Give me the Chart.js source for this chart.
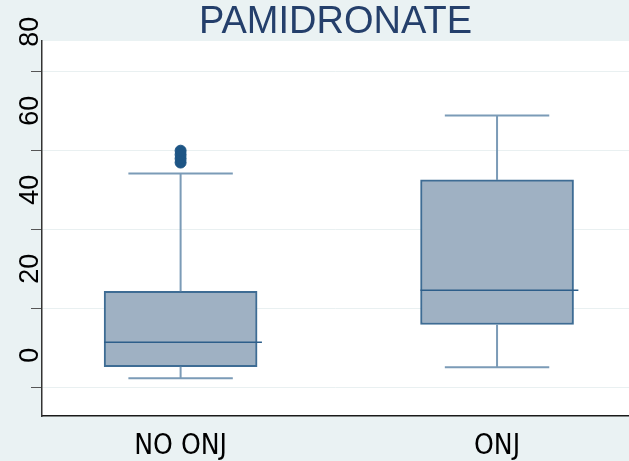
<!DOCTYPE html>
<html>
<head>
<meta charset="utf-8">
<script src="https://cdn.jsdelivr.net/npm/chart.js@4/dist/chart.umd.min.js"></script>
<style>
  html, body { margin: 0; padding: 0; background: #EAF2F3; }
  #wrap { width: 629px; height: 461px; }
</style>
</head>
<body>
<div id="wrap"><canvas id="box" width="629" height="461"></canvas></div>
<script>
/* ===== Data ===== */
const CATEGORIES = ['NO ONJ', 'ONJ'];
const LOWER_ADJ = [2.4, 5.2];
const Q1 = [5.3, 16.0];
const MEDIAN = [11.5, 24.7];
const Q3 = [24.4, 52.6];
const UPPER_ADJ = [54.2, 68.9];
const OUTLIERS = [[57, 58, 59, 60], []];
const Y_TICKS = [0, 20, 40, 60, 80];

/* ===== Look ===== */
const FONT = "'Liberation Sans', Arial, Helvetica, sans-serif";
const NARROW = "'Liberation Sans Narrow', 'Arial Narrow', 'DejaVu Sans Condensed', sans-serif";
const BOX_FILL = '#9FB1C3';
const BOX_LINE = '#3E6C94';
const WHISKER = '#7B9BB7';
const MEDIAN_LINE = '#2D5E8A';
const DOT = '#1D5585';

const BOX_HALF = 0.242;   // in x units (category spacing = 1)
const CAP_HALF = 0.165;
const MEDIAN_OVER = 0.015;

// white plot region on the bluish-gray graph region
const plotBg = {
  id: 'plotBg',
  beforeDraw(chart) {
    const { ctx, chartArea: a } = chart;
    ctx.save();
    ctx.fillStyle = '#ffffff';
    ctx.fillRect(a.left, a.top, a.right - a.left, a.bottom - a.top);
    ctx.restore();
  }
};

function segments(build) {
  const out = [];
  CATEGORIES.forEach((c, i) => {
    build(i + 1, i).forEach(seg => {
      out.push(seg[0], seg[1], { x: seg[1].x, y: null });
    });
  });
  return out;
}

const whiskers = segments((x, i) => [
  [{ x, y: Q3[i] }, { x, y: UPPER_ADJ[i] }],
  [{ x, y: LOWER_ADJ[i] }, { x, y: Q1[i] }]
]);
const caps = segments((x, i) => [
  [{ x: x - CAP_HALF, y: UPPER_ADJ[i] }, { x: x + CAP_HALF, y: UPPER_ADJ[i] }],
  [{ x: x - CAP_HALF, y: LOWER_ADJ[i] }, { x: x + CAP_HALF, y: LOWER_ADJ[i] }]
]);
const medians = segments((x, i) => [
  [{ x: x - BOX_HALF, y: MEDIAN[i] }, { x: x + BOX_HALF + MEDIAN_OVER, y: MEDIAN[i] }]
]);
const outlierPts = [];
OUTLIERS.forEach((list, i) => list.forEach(v => outlierPts.push({ x: i + 1, y: v })));

const lineBase = { type: 'line', pointRadius: 0, tension: 0, fill: false, spanGaps: false };

new Chart(document.getElementById('box'), {
  type: 'bar',
  data: {
    datasets: [
      {
        type: 'scatter',
        data: outlierPts,
        pointRadius: 5.5,
        pointBackgroundColor: DOT,
        pointBorderColor: DOT,
        pointBorderWidth: 1,
        order: 1
      },
      { ...lineBase, data: medians, borderColor: MEDIAN_LINE, borderWidth: 1.5, order: 2 },
      { ...lineBase, data: caps, borderColor: WHISKER, borderWidth: 2, order: 3 },
      { ...lineBase, data: whiskers, borderColor: WHISKER, borderWidth: 2, order: 4 },
      {
        type: 'bar',
        data: CATEGORIES.map((c, i) => ({ x: i + 1, y: [Q1[i], Q3[i]] })),
        backgroundColor: BOX_FILL,
        borderColor: BOX_LINE,
        borderWidth: 2,
        borderSkipped: false,
        barThickness: 153,
        order: 5
      }
    ]
  },
  options: {
    responsive: false,
    animation: false,
    devicePixelRatio: 1,
    layout: { padding: 0, autoPadding: false },
    plugins: {
      legend: { display: false },
      tooltip: { enabled: false },
      title: {
        display: true,
        text: 'PAMIDRONATE',
        color: '#243F6B',
        fullSize: false,
        font: { family: FONT, size: 38, weight: 'normal', lineHeight: 1 },
        padding: { top: 4, bottom: -1 }
      }
    },
    scales: {
      x: {
        type: 'linear',
        position: 'bottom',
        offset: false,
        min: 0.562,
        max: 2.417,
        grid: { display: false, drawTicks: false, offset: false },
        border: { display: true, color: '#1a1a1a', width: 1.5 },
        afterBuildTicks: s => { s.ticks = CATEGORIES.map((c, i) => ({ value: i + 1 })); },
        afterFit: s => { s.height = 45; s.paddingLeft = 0; s.paddingRight = 0; },
        ticks: {
          color: '#000',
          padding: 14,
          font: { family: NARROW, size: 28 },
          callback: v => CATEGORIES[Math.round(v) - 1]
        }
      },
      y: {
        type: 'linear',
        position: 'left',
        min: -7.16,
        max: 87.77,
        afterBuildTicks: s => { s.ticks = Y_TICKS.map(v => ({ value: v })); },
        afterFit: s => { s.width = 42; },
        grid: {
          color: '#E9F0F1',
          lineWidth: 1,
          drawTicks: true,
          tickLength: 11,
          tickColor: '#555'
        },
        border: { display: true, color: '#333', width: 1.5 },
        ticks: {
          color: '#000',
          mirror: true,
          padding: -11,
          minRotation: 90,
          maxRotation: 90,
          crossAlign: 'near',
          labelOffset: -25,
          font: { family: FONT, size: 27 }
        }
      }
    }
  },
  plugins: [plotBg]
});
</script>
</body>
</html>
